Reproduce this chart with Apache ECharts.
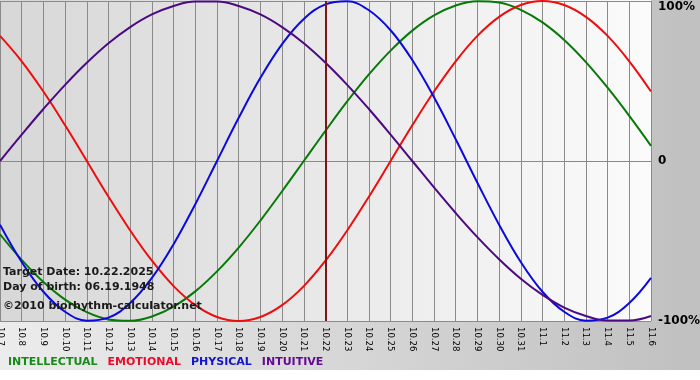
<!DOCTYPE html>
<html><head><meta charset="utf-8">
<script src="https://cdn.jsdelivr.net/npm/echarts@6/dist/echarts.min.js"></script>
<style>html,body{margin:0;padding:0;background:#fff}#c{width:700px;height:380px}</style>
</head><body><div id="c"></div>
<script>
const dates = ['10.7','10.8','10.9','10.10','10.11','10.12','10.13','10.14','10.15','10.16','10.17','10.18','10.19','10.20','10.21','10.22','10.23','10.24','10.25','10.26','10.27','10.28','10.29','10.30','10.31','11.1','11.2','11.3','11.4','11.5','11.6'];
const intellectual = [-45.8,-61.8,-75.6,-86.6,-94.5,-99.0,-99.9,-97.2,-91.0,-81.5,-69.0,-54.1,-37.2,-18.9,0.0,18.9,37.2,54.1,69.0,81.5,91.0,97.2,99.9,99.0,94.5,86.6,75.6,61.8,45.8,28.2,9.5];
const emotional = [78.2,62.3,43.4,22.3,0.0,-22.3,-43.4,-62.3,-78.2,-90.1,-97.5,-100.0,-97.5,-90.1,-78.2,-62.3,-43.4,-22.3,0.0,22.3,43.4,62.3,78.2,90.1,97.5,100.0,97.5,90.1,78.2,62.3,43.4];
const physical = [-39.8,-63.1,-81.7,-94.2,-99.8,-97.9,-88.8,-73.1,-52.0,-27.0,0.0,27.0,52.0,73.1,88.8,97.9,99.8,94.2,81.7,63.1,39.8,13.6,-13.6,-39.8,-63.1,-81.7,-94.2,-99.8,-97.9,-88.8,-73.1];
const intuitive = [0.0,16.5,32.5,47.6,61.4,73.6,83.7,91.6,96.9,99.7,99.7,96.9,91.6,83.7,73.6,61.4,47.6,32.5,16.5,0.0,-16.5,-32.5,-47.6,-61.4,-73.6,-83.7,-91.6,-96.9,-99.7,-99.7,-96.9];
const yTicks = {'100':'100%','0':'0','-100':'-100%'};
const targetDate = '10.22';
const infoLines = ['Target Date: 10.22.2025','Day of birth: 06.19.1948','©2010 biorhythm-calculator.net'];

const chart = echarts.init(document.getElementById('c'), null, {renderer:'canvas'});
const grid = '#8a8a8a';
const mk = (name, data, color) => ({
  name, type:'line', data, smooth:0.4, symbol:'none', showSymbol:false,
  lineStyle:{color, width:2}, itemStyle:{color}, emphasis:{disabled:true}, silent:true
});
const series = [
  mk('INTELLECTUAL', intellectual, '#087808'),
  mk('EMOTIONAL', emotional, '#ee0d0d'),
  mk('PHYSICAL', physical, '#0a0ade'),
  mk('INTUITIVE', intuitive, '#4b0a82')
];
series[0].markLine = {
  silent:true, symbol:['none','none'], label:{show:false}, animation:false,
  lineStyle:{color:'#7c1515', width:2, type:'solid'},
  data:[{xAxis:targetDate}]
};
const boldFont = '"DejaVu Sans", Verdana, sans-serif';
chart.setOption({
  animation:false,
  backgroundColor:'#ffffff',
  grid:{left:0, right:49, top:1, bottom:59, outerBoundsMode:'none', containLabel:false},
  legend:{
    left:-2, top:350, icon:'none', itemWidth:0, itemHeight:14, itemGap:5,
    selectedMode:false,
    textStyle:{fontFamily:boldFont, fontWeight:'bold', fontSize:11},
    data:[
      {name:'INTELLECTUAL', textStyle:{color:'#178a17'}},
      {name:'EMOTIONAL', textStyle:{color:'#ec0a2a'}},
      {name:'PHYSICAL', textStyle:{color:'#1414cc'}},
      {name:'INTUITIVE', textStyle:{color:'#640a96'}}
    ]
  },
  xAxis:{
    type:'category', boundaryGap:false, data:dates,
    axisLine:{show:true, lineStyle:{color:grid, width:1}},
    axisTick:{show:true, length:5, interval:0, lineStyle:{color:grid}},
    axisLabel:{interval:0, rotate:-90, margin:6, fontFamily:'"DejaVu Sans Condensed", "DejaVu Sans", sans-serif', fontSize:9.5, color:'#000'},
    splitLine:{show:true, interval:0, lineStyle:{color:grid, width:1}}
  },
  yAxis:{
    type:'value', position:'right', min:-100, max:100, interval:100,
    axisLine:{show:false}, axisTick:{show:false},
    axisLabel:{
      margin:7, fontFamily:boldFont, fontWeight:'bold', fontSize:12, color:'#000',
      formatter:v => v === 100 ? '{t|' + yTicks[String(v)] + '}' : yTicks[String(v)],
      rich:{t:{padding:[12,0,0,0], fontFamily:boldFont, fontWeight:'bold', fontSize:12, color:'#000'}}
    },
    splitLine:{show:true, lineStyle:{color:grid, width:1}}
  },
  graphic:[
    {type:'rect', silent:true, z:-20, shape:{x:0,y:0,width:700,height:370},
      style:{fill:new echarts.graphic.LinearGradient(0,0,1,0,[{offset:0,color:'#ececec'},{offset:1,color:'#c0c0c0'}])}},
    {type:'rect', silent:true, z:-19, shape:{x:0,y:0,width:651,height:321},
      style:{fill:new echarts.graphic.LinearGradient(0,0,1,0,[{offset:0,color:'#d7d7d7'},{offset:1,color:'#fbfbfb'}])}},
    {type:'text', silent:true, z:100, x:3, y:272, style:{text:infoLines[0], font:'bold 11px ' + boldFont, fill:'#1a1a1a', verticalAlign:'middle'}},
    {type:'text', silent:true, z:100, x:3, y:287, style:{text:infoLines[1], font:'bold 11px ' + boldFont, fill:'#1a1a1a', verticalAlign:'middle'}},
    {type:'text', silent:true, z:100, x:3, y:306, style:{text:infoLines[2], font:'bold 11px ' + boldFont, fill:'#1a1a1a', verticalAlign:'middle'}}
  ],
  series
});
</script></body></html>
